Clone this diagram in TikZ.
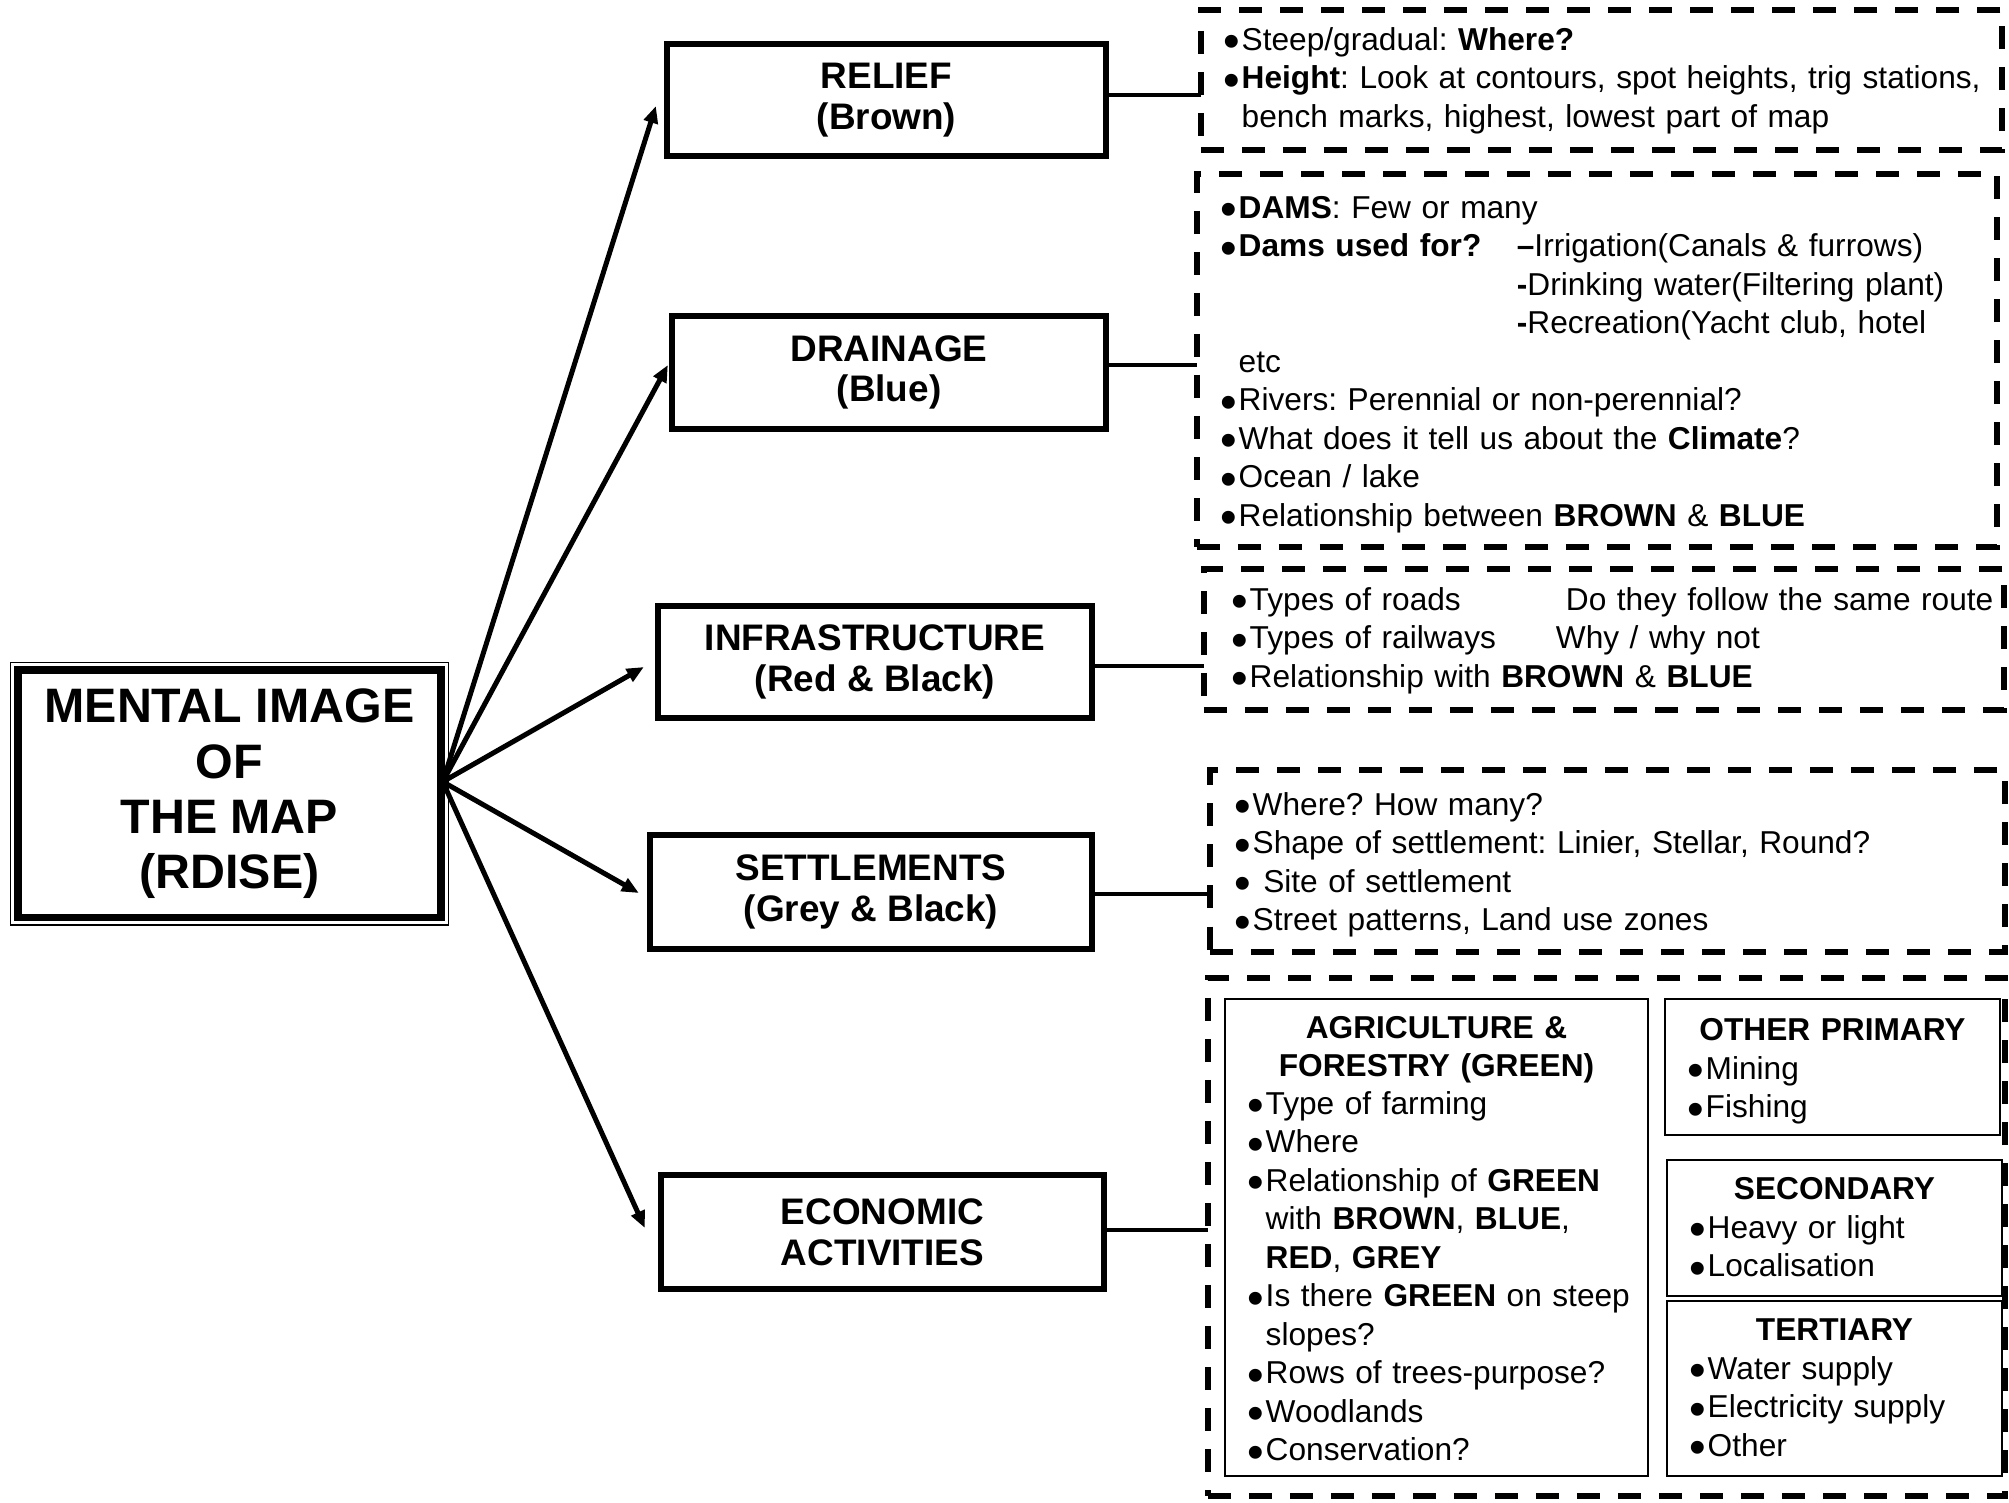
\documentclass[tikz,border=0pt]{standalone}
\usepackage{fontspec}
\setmainfont{Liberation Sans}
\usepackage{graphicx}
\usepackage{tikz}
\usetikzlibrary{arrows.meta,calc}
\frenchspacing

\newcommand{\bul}{\makebox[0.18cm][l]{\raisebox{-2.2pt}{\scalebox{1.5}{\textbullet}}}}
\newcommand{\ind}{\hspace*{0.18cm}}

\begin{document}
\begin{tikzpicture}[
  x=0.01cm, y=-0.01cm,
  mainbox/.style={draw, line width=0.075cm, minimum width=4.23cm, minimum height=2.475cm, align=center, inner sep=0pt, font=\fontsize{13.75}{15.7}\selectfont\bfseries},
  branch/.style={draw, line width=0.06cm, align=center, inner sep=0pt, font=\fontsize{10.5}{11.6}\selectfont\bfseries},
  note/.style={draw, line width=0.06cm, dash pattern=on 0.23cm off 0.18cm, inner sep=0pt, outer sep=0pt},
  subbox/.style={draw, line width=0.02cm, inner sep=0pt, outer sep=0pt},
  arr/.style={-{Triangle[length=0.17cm, width=0.14cm]}, line width=0.05cm},
  link/.style={line width=0.04cm},
  lbl/.style={anchor=base west, inner sep=0pt, text width=#1, align=left, font=\fontsize{9}{10.95}\selectfont},
  lbl/.default=7.6cm,
  head/.style={anchor=base, inner sep=0pt, text width=#1, align=center, font=\fontsize{9}{10.95}\selectfont\bfseries},
  head/.default=3.2cm,
]
\useasboundingbox (0,0) rectangle (2009,1502);

% ===== Main box =====
\node[mainbox] (main) at (229.4, 793.75) {MENTAL IMAGE\\OF\\THE MAP\\(RDISE)};
\draw[line width=0.015cm] ([shift={(-0.037cm,0.037cm)}]main.north west) rectangle ([shift={(0.037cm,-0.037cm)}]main.south east);
\coordinate (hub) at ([xshift=-0.02cm, yshift=0.12cm]main.east);

% ===== Branches =====
\node[branch, minimum width=4.39cm, minimum height=1.12cm] (relief) at (886.5, 100)   {RELIEF\\(Brown)};
\node[branch, minimum width=4.34cm, minimum height=1.13cm] (drain)  at (889, 372.5)   {DRAINAGE\\(Blue)};
\node[branch, minimum width=4.34cm, minimum height=1.12cm] (infra)  at (875, 662)     {INFRASTRUCTURE\\(Red \& Black)};
\node[branch, minimum width=4.42cm, minimum height=1.14cm] (settle) at (871, 892)     {SETTLEMENTS\\(Grey \& Black)};
\node[branch, minimum width=4.43cm, minimum height=1.14cm] (econ)   at (882.5, 1232)  {ECONOMIC\\ACTIVITIES};

\draw[arr] (hub) -- ([xshift=-0.08cm, yshift=-0.06cm]relief.west);
\draw[arr] (hub) -- ([xshift=-0.01cm, yshift=0.075cm]drain.west);
\draw[arr] (hub) -- ([xshift=-0.11cm, yshift=-0.05cm]infra.west);
\draw[arr] (hub) -- ([xshift=-0.08cm, yshift=-0.01cm]settle.west);
\draw[arr] (hub) -- ([xshift=-0.13cm, yshift=0.04cm]econ.west);

% ===== Dashed notes =====
\node[note, minimum width=8.01cm, minimum height=1.40cm]  (rnote) at (1601.5, 80) {};
\node[note, minimum width=8.00cm, minimum height=3.725cm] (dnote) at (1597, 360.75) {};
\node[note, minimum width=8.00cm, minimum height=1.41cm]  (inote) at (1604, 639.5) {};
\node[note, minimum width=7.95cm, minimum height=1.81cm]  (snote) at (1607.5, 861) {};
\node[note, minimum width=7.97cm, minimum height=5.18cm]  (enote) at (1606.5, 1237) {};

\draw[link] ([yshift=0.05cm]relief.east) -- ([yshift=0.05cm]relief.east -| rnote.west);
\draw[link] ([yshift=0.075cm]drain.east) -- ([yshift=0.075cm]drain.east -| dnote.west);
\draw[link] ([yshift=-0.04cm]infra.east) -- ([yshift=-0.04cm]infra.east -| inote.west);
\draw[link] ([yshift=-0.02cm]settle.east) -- ([yshift=-0.02cm]settle.east -| snote.west);
\draw[link] ([yshift=0.02cm]econ.east) -- ([yshift=0.02cm]econ.east -| enote.west);

\node[lbl=7.7cm] (rtxt) at (1223, 50) {\bul Steep/gradual: \textbf{Where?}\\
\bul\textbf{Height}: Look at contours, spot heights, trig stations,\\
\ind bench marks, highest, lowest part of map};

\node[lbl] (dtxt) at (1220, 218) {\bul\textbf{DAMS}: Few or many\\
\makebox[2.96cm][l]{\bul\textbf{Dams used for?}}\textbf{--}Irrigation(Canals \& furrows)\\
\hspace*{2.96cm}\textbf{-}Drinking water(Filtering plant)\\
\hspace*{2.96cm}\textbf{-}Recreation(Yacht club, hotel\\
\ind etc\\
\bul Rivers: Perennial or non-perennial?\\
\bul What does it tell us about the \textbf{Climate}?\\
\bul Ocean / lake\\
\bul Relationship between \textbf{BROWN} \& \textbf{BLUE}};

\node[lbl=7.7cm] (itxt) at (1231, 610) {\makebox[3.34cm][l]{\bul Types of roads}Do they follow the same route\\
\makebox[3.24cm][l]{\bul Types of railways}Why / why not\\
\bul Relationship with \textbf{BROWN} \& \textbf{BLUE}};

\node[lbl=7.5cm] (stxt) at (1234, 815) {\bul Where? How many?\\
\bul Shape of settlement: Linier, Stellar, Round?\\
\bul\ Site of settlement\\
\bul Street patterns, Land use zones};

% ===== Economic activities =====
\node[subbox, minimum width=4.23cm, minimum height=4.77cm] (agri)   at (1436.5, 1237.5) {};
\node[subbox, minimum width=3.35cm, minimum height=1.36cm] (other)  at (1832.5, 1067) {};
\node[subbox, minimum width=3.35cm, minimum height=1.36cm] (second) at (1834.5, 1228) {};
\node[subbox, minimum width=3.35cm, minimum height=1.75cm] (tert)   at (1834.5, 1388.5) {};

\node[head=4cm] (agrih) at (1436.5, 1038) {AGRICULTURE \&\\FORESTRY (GREEN)};
\node[lbl=3.95cm] (agril) at (1247, 1114) {\bul Type of farming\\
\bul Where\\
\bul Relationship of \textbf{GREEN}\\
\ind with \textbf{BROWN}, \textbf{BLUE},\\
\ind\textbf{RED}, \textbf{GREY}\\
\bul Is there \textbf{GREEN} on steep\\
\ind slopes?\\
\bul Rows of trees-purpose?\\
\bul Woodlands\\
\bul Conservation?};

\node[head] (otherh) at (1832.5, 1040) {OTHER PRIMARY};
\node[lbl=3cm] (otherl) at (1687, 1079) {\bul Mining\\ \bul Fishing};

\node[head] (secondh) at (1834.5, 1199) {SECONDARY};
\node[lbl=3cm] (secondl) at (1689, 1238) {\bul Heavy or light\\ \bul Localisation};

\node[head] (terth) at (1834.5, 1340) {TERTIARY};
\node[lbl=3cm] (tertl) at (1689, 1379) {\bul Water supply\\ \bul Electricity supply\\ \bul Other};

\end{tikzpicture}
\end{document}
